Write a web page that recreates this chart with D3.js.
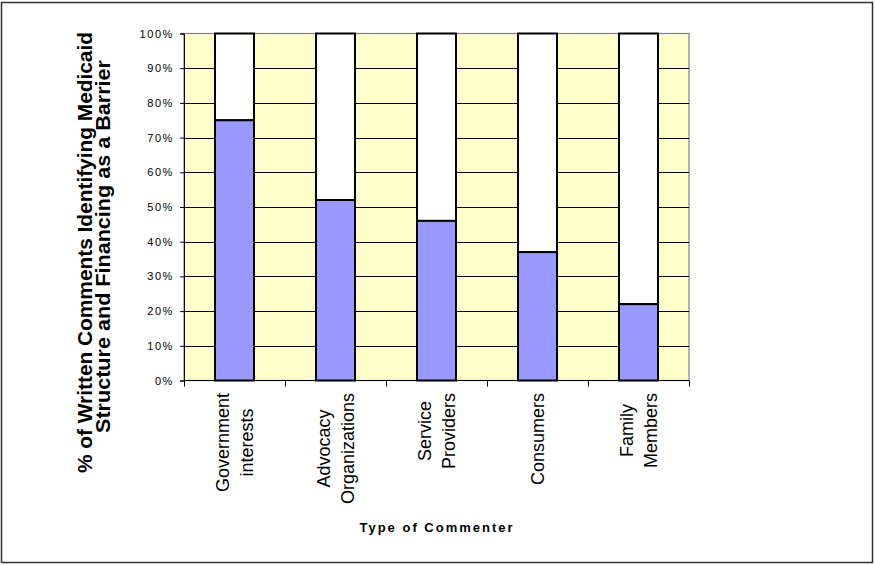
<!DOCTYPE html>
<html>
<head>
<meta charset="utf-8">
<script src="https://cdn.jsdelivr.net/npm/d3@7"></script>
<style>
  body { margin: 0; background: #fff; }
  svg { display: block; font-family: "Liberation Sans", Arial, sans-serif; }
</style>
</head>
<body>
<svg id="chart" width="875" height="565"></svg>
<script>
// data
var categories = ["Government interests", "Advocacy Organizations", "Service Providers", "Consumers", "Family Members"];
var labelLines = [["Government", "interests"], ["Advocacy", "Organizations"], ["Service", "Providers"], ["Consumers"], ["Family", "Members"]];
var barrierPct = [75, 52, 46, 37, 22];
var yTicks = [0, 10, 20, 30, 40, 50, 60, 70, 80, 90, 100];

var svg = d3.select("#chart");

// outer frame
svg.append("rect")
  .attr("x", 1.5).attr("y", 2.5)
  .attr("width", 871).attr("height", 560)
  .attr("fill", "none").attr("stroke", "#333").attr("stroke-width", 1.5);

var plotL = 184, plotR = 689, plotT = 33.5, plotB = 380.5;

var x = d3.scaleBand().domain(categories).range([plotL, plotR])
  .paddingInner(0.614).paddingOuter(0.307);
var y = d3.scaleLinear().domain([0, 100]).range([plotB, plotT]);

// plot area
svg.append("rect")
  .attr("x", plotL).attr("y", plotT)
  .attr("width", plotR - plotL).attr("height", plotB - plotT)
  .attr("fill", "#ffffcc").attr("stroke", "#808080").attr("stroke-width", 1.2);

// gridlines
svg.append("g").selectAll("line")
  .data(yTicks.filter(function(d) { return d > 0 && d < 100; }))
  .enter().append("line")
  .attr("x1", plotL).attr("x2", plotR)
  .attr("y1", function(d) { return Math.round(y(d)) + 0.5; })
  .attr("y2", function(d) { return Math.round(y(d)) + 0.5; })
  .attr("stroke", "#000").attr("stroke-width", 1);

// y axis
var yAxis = svg.append("g")
  .attr("transform", "translate(" + plotL + ",0)")
  .call(d3.axisLeft(y).tickValues(yTicks).tickSize(4).tickPadding(6)
    .tickFormat(function(d) { return d + "%"; }));
yAxis.select(".domain").attr("stroke", "#000");
yAxis.selectAll(".tick line").attr("stroke", "#000");
yAxis.selectAll("text")
  .attr("font-family", "'Liberation Sans', Arial, sans-serif")
  .attr("font-size", 11).attr("letter-spacing", "1.6px").attr("fill", "#000");

// bars: blue part and white remainder
var bars = svg.append("g");
bars.selectAll(".rest")
  .data(categories)
  .enter().append("rect")
  .attr("class", "rest")
  .attr("x", function(d) { return x(d); })
  .attr("y", y(100))
  .attr("width", x.bandwidth())
  .attr("height", function(d, i) { return y(barrierPct[i]) - y(100); })
  .attr("fill", "#fff").attr("stroke", "#000").attr("stroke-width", 2);
bars.selectAll(".val")
  .data(categories)
  .enter().append("rect")
  .attr("class", "val")
  .attr("x", function(d) { return x(d); })
  .attr("y", function(d, i) { return y(barrierPct[i]); })
  .attr("width", x.bandwidth())
  .attr("height", function(d, i) { return y(0) - y(barrierPct[i]); })
  .attr("fill", "#9999ff").attr("stroke", "#000").attr("stroke-width", 2);

// x axis line and ticks at category boundaries
var step = x.step();
var bounds = categories.map(function(d) { return x(d) - step * x.paddingInner() / 2; });
bounds.push(bounds[bounds.length - 1] + step);
svg.append("line")
  .attr("x1", plotL).attr("x2", plotR).attr("y1", plotB).attr("y2", plotB)
  .attr("stroke", "#000").attr("stroke-width", 1.2);
svg.append("g").selectAll("line")
  .data(bounds).enter().append("line")
  .attr("x1", function(d) { return Math.round(d) + 0.5; })
  .attr("x2", function(d) { return Math.round(d) + 0.5; })
  .attr("y1", plotB).attr("y2", plotB + 6)
  .attr("stroke", "#000");

// category labels, rotated, lines centred, block starting under the axis
var lineGap = 24, fs = 18;
categories.forEach(function(c, i) {
  var lines = labelLines[i];
  var cx = x(c) + x.bandwidth() / 2;
  var g = svg.append("g");
  var texts = lines.map(function(t) {
    return g.append("text").text(t)
      .attr("font-size", fs).attr("fill", "#000")
      .attr("text-anchor", "middle");
  });
  var maxLen = d3.max(texts, function(t) { return t.node().getComputedTextLength(); });
  var cy = 393 + maxLen / 2;
  texts.forEach(function(t, j) {
    var lx = cx + (j - (lines.length - 1) / 2) * lineGap + fs * 0.36;
    t.attr("transform", "translate(" + lx + "," + cy + ") rotate(-90)");
  });
});

// axis titles
svg.append("text")
  .attr("transform", "translate(437,532)")
  .attr("text-anchor", "middle")
  .attr("font-size", 13).attr("font-weight", "bold").attr("letter-spacing", "2px")
  .text("Type of Commenter");

svg.append("text")
  .attr("transform", "translate(92,252.5) rotate(-90)")
  .attr("text-anchor", "middle")
  .attr("font-size", 21).attr("font-weight", "bold")
  .attr("textLength", 441).attr("lengthAdjust", "spacingAndGlyphs")
  .text("% of Written Comments Identifying Medicaid");
svg.append("text")
  .attr("transform", "translate(110,246.5) rotate(-90)")
  .attr("text-anchor", "middle")
  .attr("font-size", 21).attr("font-weight", "bold")
  .attr("textLength", 373).attr("lengthAdjust", "spacingAndGlyphs")
  .text("Structure and Financing as a Barrier");
</script>
</body>
</html>
